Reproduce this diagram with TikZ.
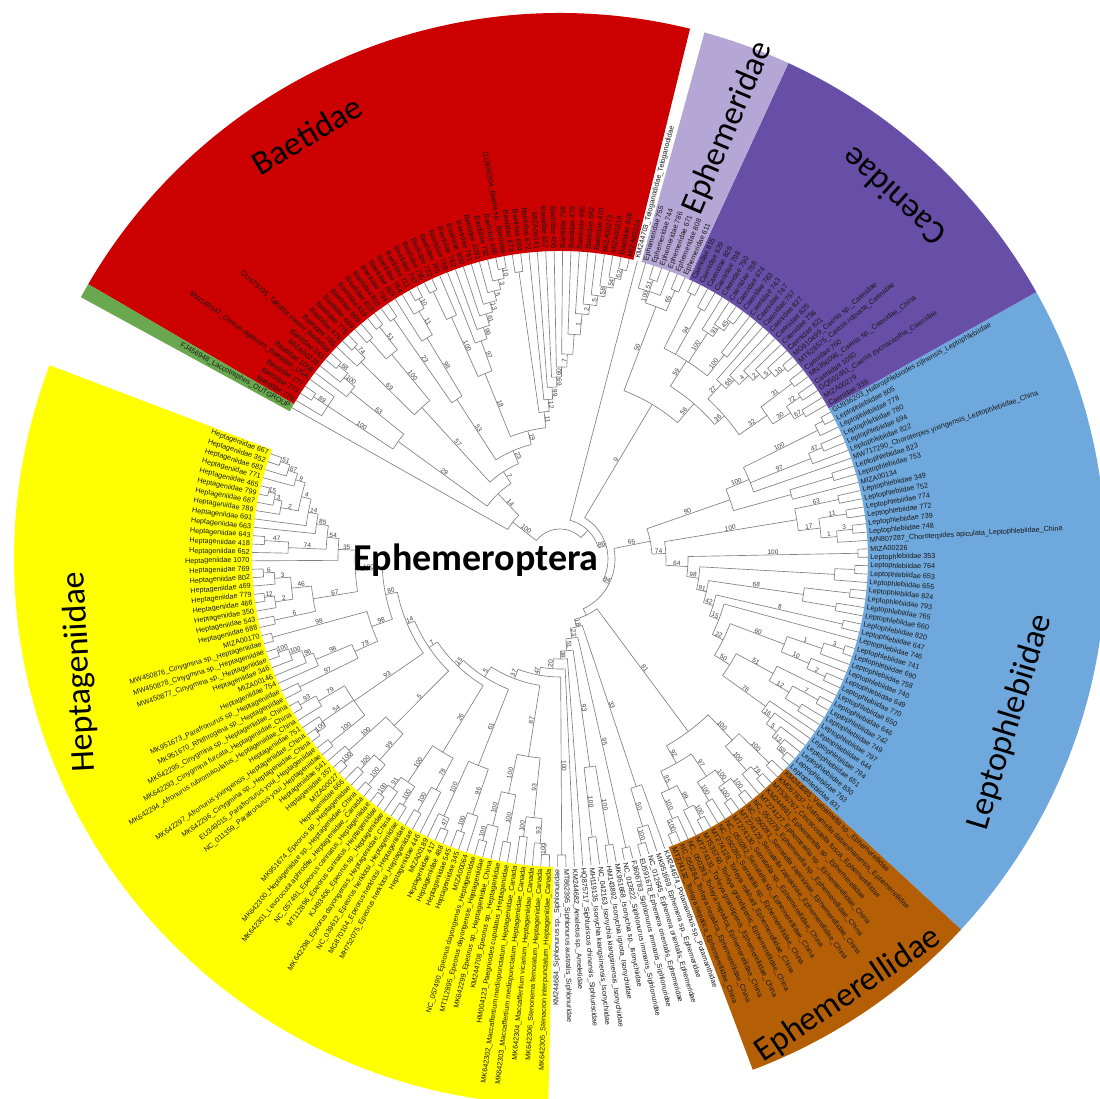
\documentclass[tikz,border=0pt]{standalone}
\usepackage{fontspec}
\setmainfont{Liberation Sans}
\newfontfamily\clfont{Carlito}
\definecolor{cred}{RGB}{204,0,0}
\definecolor{cgreen}{RGB}{106,168,79}
\definecolor{cyellow}{RGB}{255,255,0}
\definecolor{clav}{RGB}{180,167,214}
\definecolor{cpurple}{RGB}{103,78,167}
\definecolor{cblue}{RGB}{111,168,220}
\definecolor{cbrown}{RGB}{180,95,6}
\tikzset{
  br/.style={draw=black!50, line width=0.65pt},
  bs/.style={font=\fontsize{6.5}{6.5}\selectfont, text=black!75, inner sep=0.3pt},
  lf/.style={font=\fontsize{7.2}{7.2}\selectfont, text=black!90, inner sep=0.3pt},
  clab/.style={font=\clfont\fontsize{34}{36}\selectfont, text=black, inner sep=0pt}
}
\newcount\lfidx
\newcount\tdep
\def\tipr{308}
\def\astart{160}
\def\astep{1.565}
\def\addkid#1#2#3{%
  \expandafter\let\expandafter\tmpkl\csname tkids\the\tdep\endcsname
  \expandafter\xdef\csname tkids\the\tdep\endcsname{\unexpanded\expandafter{\tmpkl}\noexpand\tkid{#1}{#2}{#3}}}
\def\Lf{%
  \pgfmathsetmacro\myang{\astart+\the\lfidx*\astep}%
  \global\advance\lfidx by 1\relax
  \addkid{\myang}{\tipr}{}}
\newcommand\Nd[3]{%
  \global\advance\tdep by 1\relax
  \expandafter\gdef\csname tkids\the\tdep\endcsname{}%
  #3%
  \def\amin{10000}\def\amax{-10000}%
  \def\tkid##1##2##3{%
    \draw[br] (##1:#1pt) -- (##1:##2pt);
    \ifx\relax##3\relax\else
      \pgfmathsetmacro\labr{(#1+##2)/2}%
      \pgfmathsetmacro\labrot{cos(##1)>=0 ? ##1 : ##1+180}%
      \node[bs, rotate=\labrot, anchor=south] at (##1:\labr pt) {##3};
    \fi
    \pgfmathsetmacro\amin{min(\amin,##1)}%
    \pgfmathsetmacro\amax{max(\amax,##1)}}%
  \csname tkids\the\tdep\endcsname
  \draw[br] (\amin:#1pt) arc[start angle=\amin, end angle=\amax, radius=#1pt];
  \pgfmathsetmacro\amid{(\amin+\amax)/2}%
  \global\advance\tdep by -1\relax
  \addkid{\amid}{#1}{#2}}
\newcommand\sect[3]{%
  \pgfmathsetmacro\sa{\astart+(#2-0.5)*\astep}%
  \pgfmathsetmacro\sb{\astart+(#3+0.5)*\astep}%
  \fill[#1] (\sa:308pt) arc[start angle=\sa, end angle=\sb, radius=308pt] -- (\sb:546pt) arc[start angle=\sb, end angle=\sa, radius=546pt] -- cycle;}
\newcommand\leafs[2]{%
  \foreach \lbl [count=\j from #1] in {#2} {%
    \pgfmathsetmacro\la{\astart+\j*\astep}%
    \pgfmathtruncatemacro\rt{cos(\la)>=0}%
    \ifnum\rt=1
      \node[lf, anchor=west, rotate=\la] at (\la:310pt) {\lbl};
    \else
      \node[lf, anchor=east, rotate=\la+180] at (\la:310pt) {\lbl};
    \fi}}
% ---------- subtrees ----------
\def\trHa{\Nd{222}{35}{\Nd{234}{54}{\Nd{246}{85}{\Nd{256}{14}{\Nd{266}{4}{\Nd{276}{9}{\Nd{286}{67}{\Nd{296}{51}{\Lf\Lf}\Lf}\Lf}\Nd{284}{2}{\Nd{292}{3}{\Nd{299}{15}{\Lf\Lf}\Lf}\Lf}}\Lf}\Lf}\Nd{272}{74}{\Nd{296}{47}{\Lf\Lf}\Lf}}\Lf}}
\def\trHb{\Nd{250}{67}{\Nd{270}{46}{\Nd{286}{3}{\Nd{297}{6}{\Lf\Lf}\Lf}\Nd{288}{2}{\Nd{298}{12}{\Lf\Lf}\Lf}}\Nd{292}{6}{\Lf\Lf}}}
\def\trHc{\Nd{205}{100}{\trHa\trHb}}
\def\trHd{\Nd{200}{98}{\Nd{298}{98}{\Lf\Lf}\Nd{225}{79}{\Nd{264}{98}{\Nd{274}{96}{\Nd{286}{100}{\Nd{297}{100}{\Lf\Lf}\Lf}\Lf}\Lf}\Nd{290}{97}{\Lf\Lf}}}}
\def\trHe{\Nd{250}{93}{\Nd{280}{79}{\Nd{298}{93}{\Lf\Lf}\Lf}\Nd{288}{54}{\Lf\Nd{298}{100}{\Lf\Lf}}\Nd{294}{100}{\Lf\Lf}}}
\def\trHf{\Nd{235}{5}{\Nd{285}{100}{\Lf\Nd{297}{100}{\Lf\Lf}}\Nd{270}{99}{\Nd{290}{100}{\Lf\Lf}\Nd{296}{100}{\Lf\Lf}}}}
\def\trHg{\Nd{226}{26}{\Nd{270}{100}{\Nd{284}{91}{\Nd{296}{100}{\Lf\Lf}\Lf}\Nd{292}{100}{\Lf\Lf}}\Nd{262}{78}{\Nd{290}{100}{\Lf\Lf}\Lf}}}
\def\trHh{\Nd{222}{61}{\Nd{282}{100}{\Lf\Nd{294}{47}{\Lf\Lf}}\Nd{270}{96}{\Nd{290}{100}{\Lf\Lf}\Lf}}}
\def\trHi{\Nd{200}{87}{\Nd{240}{100}{\Nd{275}{100}{\Nd{292}{100}{\Lf\Lf}\Lf}\Nd{288}{100}{\Lf\Lf}}\Nd{260}{93}{\Nd{280}{100}{\Lf\Lf}\Nd{285}{93}{\Lf\Nd{296}{100}{\Lf\Lf}}}}}
\def\trHEPT{\Nd{128}{37}{\Nd{140}{5}{\Nd{148}{15}{\Nd{158}{7}{\Nd{166}{14}{\Nd{178}{80}{\trHc\trHd}\trHe}\trHf}\trHg}\trHh}\trHi}}
\def\trU{\Nd{70}{18}{\Nd{80}{23}{\Nd{92}{51}{\Nd{100}{38}{\Nd{110}{20}{\Nd{118}{47}{\trHEPT\Nd{296}{100}{\Lf\Lf}}\Lf}\Lf}\Nd{210}{93}{\Nd{280}{100}{\Lf\Lf}\Nd{290}{100}{\Lf\Lf}}}\Nd{296}{95}{\Lf\Lf}}\Nd{240}{33}{\Nd{280}{50}{\Nd{296}{100}{\Lf\Lf}\Lf}\Lf}}}
\def\trBROWN{\Nd{215}{81}{\Nd{235}{92}{\Nd{255}{95}{\Nd{283}{100}{\Nd{296}{100}{\Lf\Lf}\Lf}\Nd{280}{99}{\Lf\Nd{295}{100}{\Lf\Lf}}}\Nd{262}{97}{\Nd{284}{100}{\Lf\Lf}\Nd{278}{100}{\Nd{294}{100}{\Lf\Lf}\Nd{296}{100}{\Lf\Lf}}}}\Nd{250}{100}{\Nd{282}{100}{\Lf\Nd{295}{79}{\Lf\Lf}}\Nd{292}{100}{\Lf\Lf}}}}
\def\trBa{\Nd{253}{76}{\Nd{264}{16}{\Nd{277}{5}{\Nd{288}{13}{\Nd{298}{59}{\Lf\Lf}\Lf}\Lf}\Lf}\Lf}}
\def\trBb{\Nd{242}{51}{\Nd{265}{12}{\Nd{282}{}{\Lf\Lf}\Nd{294}{7}{\Lf\Lf}}\Lf}}
\def\trBc{\Nd{240}{60}{\Nd{270}{10}{\Nd{290}{2}{\Lf\Lf}\Lf}\Nd{277}{1}{\Lf\Nd{298}{3}{\Lf\Lf}}}}
\def\trBd{\Nd{290}{8}{\Lf\Lf}}
\def\trBe{\Nd{246}{68}{\Nd{280}{}{\Lf\Lf}\Nd{292}{}{\Lf\Lf}}}
\def\trBf{\Nd{275}{}{\Lf\Nd{295}{}{\Lf\Lf}}}
\def\trBg{\Nd{298}{100}{\Lf\Lf}}
\def\trLOW{\Nd{128}{64}{\Nd{140}{98}{\Nd{150}{91}{\Nd{160}{42}{\Nd{170}{15}{\Nd{182}{22}{\Nd{200}{50}{\trBa\trBb}\trBc}\Lf}\trBd}\trBe}\trBf}\trBg}}
\def\trLM{\Nd{240}{100}{\Nd{262}{17}{\Nd{278}{1}{\Lf\Nd{294}{3}{\Lf\Lf}}\Nd{290}{11}{\Lf\Lf}}\Nd{285}{63}{\Lf\Lf}}}
\def\trLH{\Nd{180}{90}{\Nd{240}{}{\Lf\Nd{285}{}{\Lf\Lf}}\Nd{205}{100}{\Lf\Nd{270}{97}{\Lf\Nd{285}{47}{\Lf\Lf}}\Nd{288}{100}{\Lf\Nd{297}{}{\Lf\Lf}}}}}
\def\trLEP{\Nd{92}{65}{\Nd{106}{74}{\trLOW\trLM}\trLH}}
\def\trCa{\Nd{252}{32}{\Nd{273}{30}{\Nd{284}{67}{\Lf\Lf}\Nd{290}{72}{\Lf\Lf}}\Nd{291}{31}{\Lf\Lf}}}
\def\trCb{\Nd{238}{27}{\Nd{250}{66}{\Nd{263}{4}{\Nd{272}{2}{\Nd{282}{5}{\Nd{295}{10}{\Lf\Lf}\Lf}\Lf}\Lf}\Lf}\Lf}}
\def\trCc{\Nd{235}{59}{\Nd{262}{100}{\Lf\Lf}\Nd{270}{100}{\Nd{281}{91}{\Nd{292}{45}{\Lf\Lf}\Lf}\Lf}\Nd{287}{94}{\Lf\Lf}\Nd{296}{}{\Lf\Lf}}}
\def\trEPH{\Nd{270}{50}{\Nd{292}{65}{\Lf\Lf}\Nd{282}{100}{\Lf\Nd{294}{51}{\Lf\Lf}\Lf}}}
\def\trEC{\Nd{180}{9}{\Nd{205}{56}{\Nd{218}{36}{\trCa\trCb}\trCc}\trEPH}}
\def\trRa{\Nd{148}{11}{\Nd{160}{12}{\Nd{172}{99}{\Nd{182}{69}{\Nd{192}{60}{\Nd{205}{7}{\Nd{225}{}{\Nd{246}{1}{\Nd{256}{2}{\Nd{266}{5}{\Nd{276}{58}{\Nd{286}{54}{\Nd{296}{62}{\Lf\Lf}\Lf}\Lf}\Lf}\Lf}\Lf}\Lf}\Lf}\Lf}\Lf}\Lf}\Lf}\Nd{290}{}{\Lf\Lf}}}
\def\trRb{\Nd{200}{18}{\Nd{232}{97}{\Nd{244}{99}{\Nd{256}{61}{\Nd{266}{13}{\Nd{276}{5}{\Nd{286}{3}{\Nd{296}{10}{\Lf\Lf}\Lf}\Lf}\Lf}\Lf}\Lf}\Lf}\Nd{265}{100}{\Lf\Nd{296}{}{\Lf\Lf}}}}
\def\trRc{\Nd{190}{53}{\Nd{258}{98}{\Nd{285}{11}{\Nd{296}{10}{\Lf\Lf}\Lf}\Lf}\Nd{292}{23}{\Lf\Lf}}}
\def\trRd{\Nd{205}{57}{\Nd{265}{100}{\Nd{294}{51}{\Lf\Lf}\Nd{290}{}{\Lf\Lf}}\Nd{280}{69}{\Nd{295}{74}{\Lf\Lf}\Lf}}}
\def\trRe{\Nd{200}{29}{\Nd{268}{63}{\Nd{282}{100}{\Nd{294}{68}{\Lf\Lf}\Lf}\Lf}\Nd{278}{100}{\Lf\Nd{295}{89}{\Lf\Lf}\Lf}}}
\def\trBAET{\Nd{90}{14}{\Nd{104}{7}{\Nd{118}{23}{\Nd{132}{19}{\trRa\trRb}\trRc}\trRd}\trRe}}
\begin{document}
\begin{tikzpicture}
\useasboundingbox (-560pt,-540pt) rectangle (540pt,559pt);
\fill[white] (-560pt,-540pt) rectangle (540pt,559pt);
% coloured sectors
\sect{cyellow}{0}{69}
\sect{cbrown}{84}{100}
\sect{cblue}{101}{146}
\sect{cpurple}{147}{169}
\sect{clav}{170}{175}
\sect{cred}{177}{223}
\sect{cgreen}{224}{224}
% tree
\global\lfidx=0
\Nd{30}{}{\Nd{40}{}{\Nd{48}{86}{\Nd{55}{84}{\Nd{62}{}{\trU\trBROWN}\trLEP}\trEC}\Lf}\Nd{60}{100}{\trBAET\Lf}}
% leaf labels
\leafs{0}{Heptageniidae 667, Heptageniidae 352, Heptageniidae 683, Heptageniidae 771, Heptageniidae 465, Heptageniidae 799, Heptageniidae 687, Heptageniidae 789, Heptageniidae 691, Heptageniidae 663, Heptageniidae 643, Heptageniidae 418, Heptageniidae 652, Heptageniidae 1070, Heptageniidae 769, Heptageniidae 802, Heptageniidae 469, Heptageniidae 779, Heptageniidae 466, Heptageniidae 350, Heptageniidae 543, Heptageniidae 688, MIZA00170, MW450876\_Cinygmina sp.\_Heptageniidae, MW450878\_Cinygmina sp.\_Heptageniidae, MW450877\_Cinygmina sp.\_Heptageniidae, Heptageniidae 346, MIZA00146, Heptageniidae 754, MK951673\_Parafronurus sp.\_Heptageniidae, MK951670\_Rhithrogena sp.\_Heptageniidae, MK642295\_Cinygmina sp.\_Heptageniidae\_China, MK642293\_Cinygmina furcata\_Heptageniidae\_China, MK642294\_Afronurus rubromaculatus\_Heptageniidae\_China, Heptageniidae 751, MK642297\_Afronurus yixingensis\_Heptageniidae\_China, MK642296\_Cinygmina sp.\_Heptageniidae\_China, EU349015\_Parafronurus youi\_Heptageniidae, NC\_011359\_Parafronurus youi\_Heptageniidae, Heptageniidae 541, Heptageniidae 357, MIZA00027, Heptageniidae 666, MK951674\_Epeorus sp.\_Heptageniidae, MK642300\_Heptageniidae sp.\_Heptageniidae\_China, MK642301\_Leucrocuta aphrodite\_Heptageniidae\_Canada, NC\_057491\_Epeorus carinatus\_Heptageniidae, MT112896\_Epeorus carinatus\_Heptageniidae, KJ493406\_Epeorus sp.\_Heptageniidae, MK642298\_Epeorus dayongensis\_Heptageniidae\_China, NC\_039612\_Epeorus herklotsi\_Heptageniidae, MG870104\_Epeorus herklotsi\_Heptageniidae, MH752075\_Epeorus herklotsi\_Heptageniidae, Heptageniidae 446, MIZA00189, Heptageniidae 417, Heptageniidae 488, Heptageniidae 545, Heptageniidae 345, MIZA00064, NC\_057490\_Epeorus dayongensis\_Heptageniidae, MT112895\_Epeorus dayongensis\_Heptageniidae, MK642299\_Epeorus sp.\_Heptageniidae\_China, KM244708\_Epeorus sp.\_Heptageniidae, HM004123\_Paegniodes cupulatus\_Heptageniidae, MK642302\_Maccaffertium mediopunctatum\_Heptageniidae\_Canada, MK642303\_Maccaffertium mediopunctatum\_Heptageniidae\_Canada, MK642304\_Maccaffertium vicarium\_Heptageniidae\_Canada, MK642306\_Stenonema femoratum\_Heptageniidae\_Canada, MK642305\_Stenacron interpunctatum\_Heptageniidae\_Canada}
\leafs{70}{KM244684\_Siphlonurus sp.\_Siphlonuridae, MT862395\_Siphlonurus australis\_Siphlonuridae, KM244682\_Ameletus sp.\_Ameletidae, HQ875717\_Siphluriscus chinensis\_Siphluriscidae, MH119135\_Isonychia kiangsinensis\_Isonychiidae, NC\_042163\_Isonychia kiangsinensis\_Isonychiidae, HM143892\_Isonychia ignota\_Isonychiidae, MK951668\_Isonychia sp.\_Isonychiidae, NC\_013822\_Siphlonurus immanis\_Siphlonuridae, FJ606783\_Siphlonurus immanis\_Siphlonuridae, EU591678\_Ephemera orientalis\_Ephemeridae, NC\_012645\_Ephemera orientalis\_Ephemeridae, MK951669\_Ephemera sp.\_Ephemeridae, KM244674\_Potamanthus sp.\_Potamanthidae}
\leafs{84}{MT274132\_Torleya nepalica\_Ephemerellidae\_China, NC\_050284\_Torleya nepalica\_Ephemerellidae\_China, NC\_050283\_Torleya nepalica\_Ephemerellidae\_China, MT274131\_Torleya grandipenis\_Ephemerellidae\_China, MT535766\_Torleya grandipenis\_Ephemerellidae\_China, MT274128\_Torleya mikhaili\_Ephemerellidae\_China, NC\_050280\_Serratella sp.\_Ephemerellidae\_China, NC\_050282\_Serratella sp.\_Ephemerellidae\_China, MT274130\_Serratella sp.\_Ephemerellidae\_China, MT274129\_Serratella zapekinae\_Ephemerellidae\_China, NC\_050281\_Serratella zapekinae\_Ephemerellidae\_China, NC\_050279\_Ephemerella sp.\_Ephemerellidae\_China, MT274127\_Ephemerella sp.\_Ephemerellidae\_China, KM244691\_Ephemerella sp.\_Ephemerellidae, MT535767\_Cincticostella fusca\_Ephemerellidae, KM067837\_Vietnamella dabieshanensis\_Ephemerellidae, KM244685\_Vietnamella sp.\_Ephemerellidae}
\leafs{101}{Leptophlebiidae 831, Leptophlebiidae 763, Leptophlebiidae 830, Leptophlebiidae 651, Leptophlebiidae 794, Leptophlebiidae 644, Leptophlebiidae 797, Leptophlebiidae 749, Leptophlebiidae 742, Leptophlebiidae 646, Leptophlebiidae 650, Leptophlebiidae 770, Leptophlebiidae 649, Leptophlebiidae 740, Leptophlebiidae 758, Leptophlebiidae 690, Leptophlebiidae 741, Leptophlebiidae 746, Leptophlebiidae 647, Leptophlebiidae 820, Leptophlebiidae 660, Leptophlebiidae 765, Leptophlebiidae 793, Leptophlebiidae 824, Leptophlebiidae 655, Leptophlebiidae 653, Leptophlebiidae 764, Leptophlebiidae 353, MIZA00226, MN807287\_Choroterpides apiculata\_Leptophlebiidae\_China, Leptophlebiidae 748, Leptophlebiidae 739, Leptophlebiidae 772, Leptophlebiidae 774, Leptophlebiidae 752, Leptophlebiidae 349, MIZA00134, Leptophlebiidae 753, Leptophlebiidae 823, MW717290\_Choroterpes yixingensis\_Leptophlebiidae\_China, Leptophlebiidae 822, Leptophlebiidae 694, Leptophlebiidae 780, Leptophlebiidae 778, Leptophlebiidae 805, GU936203\_Habrophlebiodes zijinensis\_Leptophlebiidae}
\leafs{147}{Caenidae 339, MIZA00279, GQ502451\_Caenis pycnacantha\_Caenidae, Caenidae 1060, MN356096\_Caenis sp.\_Caenidae\_China, Caenidae 760, MT628575\_Caenis robusta\_Caenidae, MG910499\_Caenis sp.\_Caenidae, Caenidae 821, Caenidae 756, Caenidae 825, Caenidae 827, Caenidae 757, Caenidae 747, Caenidae 743, Caenidae 783, Caenidae 674, Caenidae 788, Caenidae 790, Caenidae 798, Caenidae 828, Caenidae 829, Caenidae 815}
\leafs{170}{Ephemeridae 611, Ephemeridae 808, Ephemeridae 671, Ephemeridae 786, Ephemeridae 744, Ephemeridae 755, KM244703\_Teloganodidae\_Teloganodidae}
\leafs{177}{MIZA00224, Baetidae 406, MIZA00219, MIZA00273, Baetidae 470, Baetidae 682, Baetidae 495, Baetidae 479, Baetidae 796, Baetidae 408, Baetidae 657, MIZA00141, Baetidae 672, Baetidae 684, Baetidae 673, GU936204\_Baetis sp.\_Baetidae, Baetidae 685, Baetidae 792, Baetidae 1091, Baetidae 781, Baetidae 806, Baetidae 782, Baetidae 768, Baetidae 745, Baetidae 732, Baetidae 795, Baetidae 767, Baetidae 711, Baetidae 784, Baetidae 803, Baetidae 794, Baetidae 801, Baetidae 810, Baetidae 819, Baetidae 809, Baetidae 669, Baetidae 775, Baetidae 476, Baetidae 785, GU479735\_Takobia yixiani\_Baetidae, Baetidae 343, MIZA00278, Baetidae 1058, MW149047\_Cloeon dipterum\_Baetidae\_USA, Baetidae 777, Baetidae 773, Baetidae 776, FJ456948\_Laccotrephes\_OUTGROUP}
% clade labels
\node[clab, rotate=31] (baet) at (-253pt,424pt) {Baetidae};
\node[clab, rotate=67] (ephe) at (168pt,431pt) {Ephemeridae};
\node[clab, rotate=137.5] (caen) at (333pt,362pt) {Caenidae};
\node[clab, rotate=73] (lept) at (450pt,-163pt) {Leptophlebiidae};
\node[clab, rotate=34] (ephl) at (288pt,-436pt) {Ephemerellidae};
\node[clab, rotate=93] (hept) at (-480pt,-113pt) {Heptageniidae};
\node[font=\clfont\bfseries\fontsize{38}{40}\selectfont, inner sep=0pt] (title) at (-84pt,-1pt) {Ephemeroptera};
\end{tikzpicture}
\end{document}
